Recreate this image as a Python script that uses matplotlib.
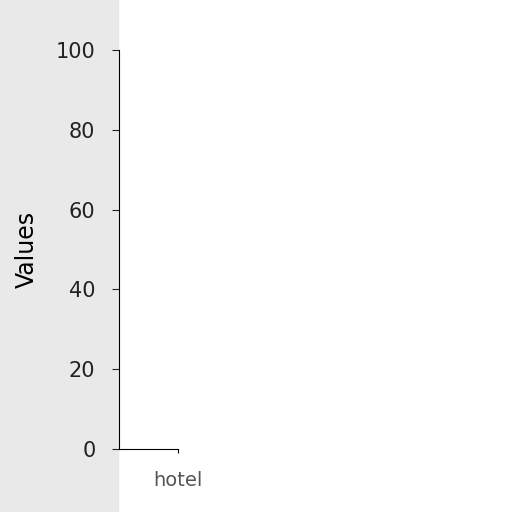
import matplotlib
matplotlib.use("Agg")
import matplotlib.pyplot as plt
from matplotlib.patches import Rectangle

categories = ["hotel"]
values = [0]
yticks = [0, 20, 40, 60, 80, 100]

fig = plt.figure(figsize=(5.12, 5.12), dpi=100)

# faded grey band behind the y axis
fig.patches.append(Rectangle((0, 0), 0.23, 1.0, transform=fig.transFigure,
                             color="#e9e9e9", zorder=-5))

ax = fig.add_axes([119 / 512, 63 / 512, 59 / 512, 399 / 512])
ax.set_zorder(2)
ax.patch.set_alpha(0)
ax.bar(range(len(categories)), values, color="#4c72b0", width=0.6)

ax.set_xlim(-1, 0)
ax.set_ylim(0, 100)
ax.set_yticks(yticks)
ax.set_xticks(range(len(categories)))
ax.set_xticklabels(categories, color="#555555")
ax.set_ylabel("Values", fontsize=17, labelpad=12)

ax.tick_params(axis="y", labelsize=15, length=5, pad=12, colors="#222222")
ax.tick_params(axis="x", labelsize=14, length=3, pad=13)
ax.spines["top"].set_visible(False)
ax.spines["right"].set_visible(False)

fig.savefig("out.png", dpi=100)
